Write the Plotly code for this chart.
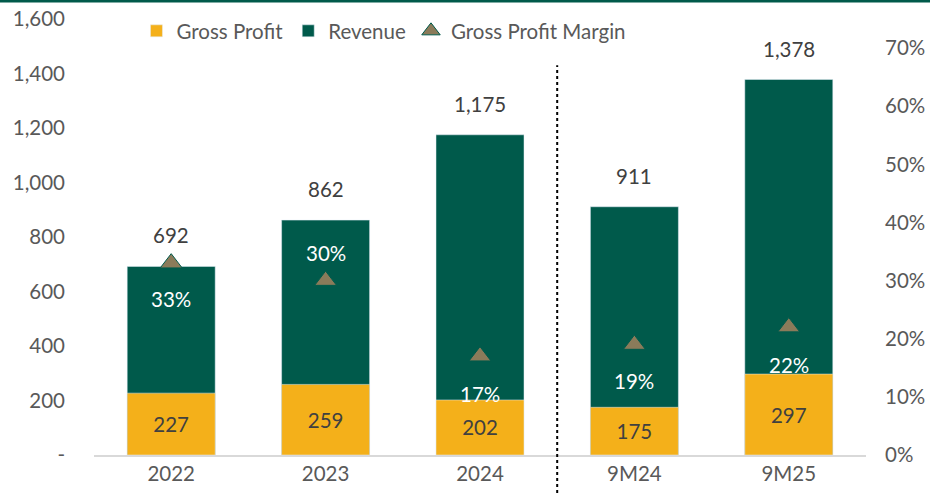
import plotly.graph_objects as go

categories = ["2022", "2023", "2024", "9M24", "9M25"]
revenue = [692, 862, 1175, 911, 1378]
gross_profit = [227, 259, 202, 175, 297]
gp_margin = [0.33, 0.30, 0.17, 0.19, 0.22]
margin_labels = ["33%", "30%", "17%", "19%", "22%"]
margin_label_shift = [-36, 28, -38, -36, -38]

left_tickvals = [0, 200, 400, 600, 800, 1000, 1200, 1400, 1600]
left_ticktext = ["-", "200", "400", "600", "800", "1,000", "1,200", "1,400", "1,600"]
right_tickvals = [0, 0.1, 0.2, 0.3, 0.4, 0.5, 0.6, 0.7]
right_ticktext = ["0%", "10%", "20%", "30%", "40%", "50%", "60%", "70%"]

GREEN = "#005A4B"
GOLD = "#F4B01A"
MARKER = "#8B7B5A"
TXT = "#595959"
FONT = "Lato, Open Sans, sans-serif"
FS = 20.5

fig = go.Figure()
fig.add_trace(go.Bar(
    x=categories, y=revenue, name="Revenue", marker_color=GREEN,
    width=0.57, legendrank=2, hoverinfo="skip"))
fig.add_trace(go.Bar(
    x=categories, y=gross_profit, name="Gross Profit", marker_color=GOLD,
    width=0.57, text=[str(v) for v in gross_profit], textposition="inside",
    insidetextanchor="middle", textfont=dict(color="#404040", size=FS, family=FONT),
    legendrank=1, hoverinfo="skip"))
fig.add_trace(go.Scatter(
    x=categories, y=gp_margin, name="Gross Profit Margin", mode="markers",
    yaxis="y2", marker=dict(symbol="triangle-up", size=19, color=MARKER,
                            line=dict(color=GREEN, width=1)),
    legendrank=3, hoverinfo="skip"))

annotations = []
for i, r in enumerate(revenue):
    annotations.append(dict(x=i, y=r, xref="x", yref="y", text=f"{r:,}",
                            showarrow=False, yshift=31,
                            font=dict(size=FS, color="#404040", family=FONT)))
for i, (m, lab, s) in enumerate(zip(gp_margin, margin_labels, margin_label_shift)):
    annotations.append(dict(x=i, y=m, xref="x", yref="y2", text=lab,
                            showarrow=False, yshift=s,
                            font=dict(size=FS, color="white", family=FONT)))

fig.update_layout(
    width=930, height=493,
    margin=dict(l=94, r=64, t=19, b=38, autoexpand=False),
    paper_bgcolor="white", plot_bgcolor="white",
    barmode="overlay",
    font=dict(family=FONT, size=FS, color=TXT),
    showlegend=True,
    legend=dict(orientation="h", x=0.055, y=0.9371, xanchor="left", yanchor="middle",
                yref="container",
                font=dict(size=FS, color=TXT), bgcolor="rgba(0,0,0,0)"),
    xaxis=dict(type="category", showline=True, linecolor="#D9D9D9", linewidth=1.5,
               ticks="", showgrid=False, tickfont=dict(size=FS, color=TXT),
               range=[-0.5, 4.5], automargin=False),
    yaxis=dict(range=[0, 1600], tickvals=left_tickvals, ticktext=left_ticktext,
               showgrid=False, zeroline=False, showline=False, ticks="",
               ticklabelstandoff=28, tickfont=dict(size=FS, color=TXT),
               ticklabeloverflow="allow", automargin=False),
    yaxis2=dict(range=[0, 0.75], overlaying="y", side="right",
                tickvals=right_tickvals, ticktext=right_ticktext,
                showgrid=False, zeroline=False, showline=False, ticks="",
                ticklabelstandoff=18, tickfont=dict(size=FS, color=TXT),
                ticklabeloverflow="allow", automargin=False),
    annotations=annotations,
    shapes=[
        dict(type="line", xref="x", yref="paper", x0=2.5, x1=2.5, y0=-0.087, y1=0.894,
             line=dict(color="black", width=2, dash="dot")),
        dict(type="line", xref="paper", yref="paper", x0=-0.3, x1=1.3,
             y0=1.0413, y1=1.0413, line=dict(color=GREEN, width=3)),
    ],
)

fig.write_html("out.html", config={"displayModeBar": False},
               post_script="document.body.style.margin='0';document.body.style.overflow='hidden';")
